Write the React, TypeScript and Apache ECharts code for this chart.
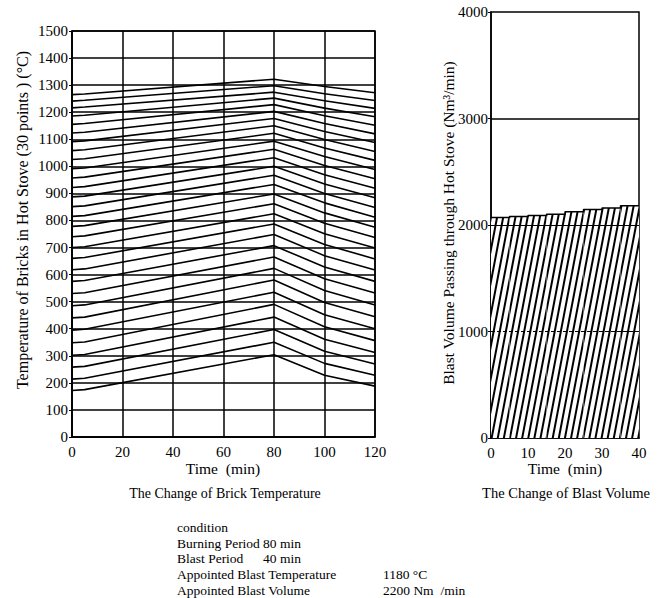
import React, { useEffect, useRef } from "react";
import * as echarts from "echarts";

// ---- Brick temperature (30 points), sampled at these times (min) ----
const brickTimes = [0, 5, 80, 100, 120];
const tempAt0 = [172, 214, 258, 302, 348, 395, 440, 485, 530, 575, 618, 660, 700, 740, 778, 815, 851, 887, 922, 957, 991, 1025, 1058, 1091, 1123, 1155, 1186, 1216, 1241, 1265];
const tempAt5 = [175, 217, 261, 305, 351, 398, 443, 488, 533, 578, 621, 663, 703, 743, 781, 818, 854, 890, 925, 960, 994, 1028, 1061, 1094, 1126, 1158, 1189, 1219, 1244, 1267];
const tempAt80 = [304, 350, 397, 443, 490, 535, 580, 623, 665, 707, 748, 787, 825, 862, 898, 933, 967, 1000, 1032, 1063, 1093, 1122, 1150, 1177, 1203, 1228, 1252, 1274, 1298, 1322];
const tempAt100 = [228, 272, 317, 361, 407, 452, 497, 541, 585, 628, 670, 711, 751, 790, 828, 865, 900, 935, 969, 1003, 1036, 1068, 1099, 1129, 1158, 1187, 1215, 1242, 1268, 1295];
const tempAt120 = [188, 228, 270, 312, 356, 400, 444, 488, 532, 575, 617, 658, 698, 737, 775, 812, 848, 884, 919, 954, 988, 1022, 1055, 1088, 1120, 1152, 1183, 1214, 1243, 1272];
const tempTicks = [0, 1500, 100];
const timeTicksBrick = [0, 120, 20];

// ---- Blast volume ----
const blastStepStart = [0, 5, 10, 15, 20, 25, 30, 35];
const blastStepLabels = ["0-5", "5-10", "10-15", "15-20", "20-25", "25-30", "30-35", "35-40"];
const blastVolume = [2070, 2080, 2090, 2100, 2125, 2145, 2160, 2180];
const blastEndTime = 40;
const volumeTicks = [0, 4000, 1000];
const timeTicksBlast = [0, 40, 10];

const SERIF = "'Liberation Serif', 'DejaVu Serif', serif";

export default function App() {
  const ref = useRef<HTMLDivElement>(null);
  useEffect(() => {
    if (!ref.current) return;
    const chart = echarts.init(ref.current, undefined, { renderer: "svg" });
    const tempSeries = tempAt0.map((_, i) => ({
      type: "line",
      xAxisIndex: 0,
      yAxisIndex: 0,
      symbol: "none",
      silent: true,
      lineStyle: { color: "#000", width: 1.6 },
      data: [
        [brickTimes[0], tempAt0[i]],
        [brickTimes[1], tempAt5[i]],
        [brickTimes[2], tempAt80[i]],
        [brickTimes[3], tempAt100[i]],
        [brickTimes[4], tempAt120[i]],
      ],
      z: 3,
    }));
    const stepData = blastStepStart.map((t, i) => [t, blastVolume[i]]);
    stepData.push([blastEndTime, blastVolume[blastVolume.length - 1]]);

    const axisLabel = {
      color: "#000",
      fontFamily: SERIF,
      fontSize: 15,
      formatter: (v: number) => String(v),
    };
    const txt = (x: number, y: number, text: string, size: number, extra: any = {}) => ({
      type: "text",
      x,
      y,
      silent: true,
      style: {
        text,
        fill: "#000",
        font: `${size}px ${SERIF}`,
        align: "left",
        verticalAlign: "middle",
        ...extra,
      },
    });

    chart.setOption({
      animation: false,
      backgroundColor: "#fff",
      grid: [
        { left: 72, top: 31, right: 287, bottom: 161, show: true, borderColor: "#000", borderWidth: 1.5, containLabel: false },
        { left: 491, top: 12, right: 23, bottom: 160, show: true, borderColor: "#000", borderWidth: 1.5, containLabel: false },
      ],
      xAxis: [
        {
          type: "value", gridIndex: 0, position: "bottom",
          min: timeTicksBrick[0], max: timeTicksBrick[1], interval: timeTicksBrick[2],
          axisLine: { lineStyle: { color: "#000", width: 1.5 } },
          axisTick: { show: false },
          axisLabel: { ...axisLabel, margin: 7 },
          splitLine: { show: true, lineStyle: { color: "#000", width: 1.5 } },
        },
        {
          type: "category", gridIndex: 1, position: "top", data: blastStepLabels, show: false, boundaryGap: true,
        },
        {
          type: "value", gridIndex: 1, position: "bottom",
          min: timeTicksBlast[0], max: timeTicksBlast[1], interval: timeTicksBlast[2],
          axisLine: { lineStyle: { color: "#000", width: 1.5 } },
          axisTick: { show: false },
          axisLabel: { ...axisLabel, margin: 7 },
          splitLine: { show: false },
        },
      ],
      yAxis: [
        {
          type: "value", gridIndex: 0, min: tempTicks[0], max: tempTicks[1], interval: tempTicks[2],
          axisLine: { show: true, lineStyle: { color: "#000", width: 1.5 } },
          axisTick: { show: true, length: 3, lineStyle: { color: "#000" } },
          axisLabel: { ...axisLabel, margin: 4 },
          splitLine: { show: true, lineStyle: { color: "#000", width: 1.5 } },
        },
        {
          type: "value", gridIndex: 1, min: volumeTicks[0], max: volumeTicks[1], interval: volumeTicks[2],
          axisLine: { show: true, lineStyle: { color: "#000", width: 1.5 } },
          axisTick: { show: true, length: 3, lineStyle: { color: "#000" } },
          axisLabel: { ...axisLabel, margin: 3 },
          splitLine: { show: false },
        },
      ],
      series: [
        ...tempSeries,
        {
          type: "bar",
          xAxisIndex: 1,
          yAxisIndex: 1,
          barCategoryGap: "0%",
          silent: true,
          data: blastVolume,
          itemStyle: {
            color: "#fff",
            decal: {
              symbol: "rect",
              symbolSize: 1,
              dashArrayX: [1, 0],
              dashArrayY: [1.3, 3.7],
              rotation: -Math.PI * 0.44,
              color: "#000",
              backgroundColor: "#fff",
            },
          },
          z: 2,
        },
        {
          type: "line",
          xAxisIndex: 2,
          yAxisIndex: 1,
          step: "end",
          symbol: "none",
          silent: true,
          lineStyle: { color: "#000", width: 1.5 },
          data: stepData,
          z: 4,
          markLine: {
            silent: true,
            symbol: "none",
            label: { show: false },
            data: [
              { yAxis: 3000, lineStyle: { color: "#000", width: 1.5, type: "solid" } },
              { yAxis: 2000, lineStyle: { color: "#000", width: 1, type: "solid" } },
              { yAxis: 1000, lineStyle: { color: "#000", width: 1.2, type: [4, 2] } },
            ],
          },
        },
      ],
      graphic: [
        { ...txt(22, 220, "Temperature of Bricks in Hot Stove (30 points ) (°C)", 16, { align: "center" }), rotation: Math.PI / 2 },
        txt(223, 468, "Time  (min)", 15.5, { align: "center" }),
        txt(225, 493, "The Change of Brick Temperature", 14, { align: "center" }),
        txt(565, 468, "Time  (min)", 15.5, { align: "center" }),
        txt(566, 493, "The Change of Blast Volume", 14.5, { align: "center" }),
        { ...txt(448, 223, "Blast Volume Passing through Hot Stove (Nm³/min)", 15.5, { align: "center" }), rotation: Math.PI / 2 },
        txt(177, 527, "condition", 13.5),
        txt(177, 543, "Burning Period", 13.5),
        txt(263, 543, "80 min", 13.5),
        txt(177, 558, "Blast Period", 13.5),
        txt(263, 558, "40 min", 13.5),
        txt(177, 574, "Appointed Blast Temperature", 13.5),
        txt(383, 574, "1180 °C", 13.5),
        txt(177, 590, "Appointed Blast Volume", 13.5),
        txt(383, 590, "2200 Nm  /min", 13.5),
      ],
    });
    return () => chart.dispose();
  }, []);
  return (
    <div
      ref={ref}
      style={{ position: "absolute", left: 0, top: 0, width: 662, height: 598 }}
    />
  );
}
